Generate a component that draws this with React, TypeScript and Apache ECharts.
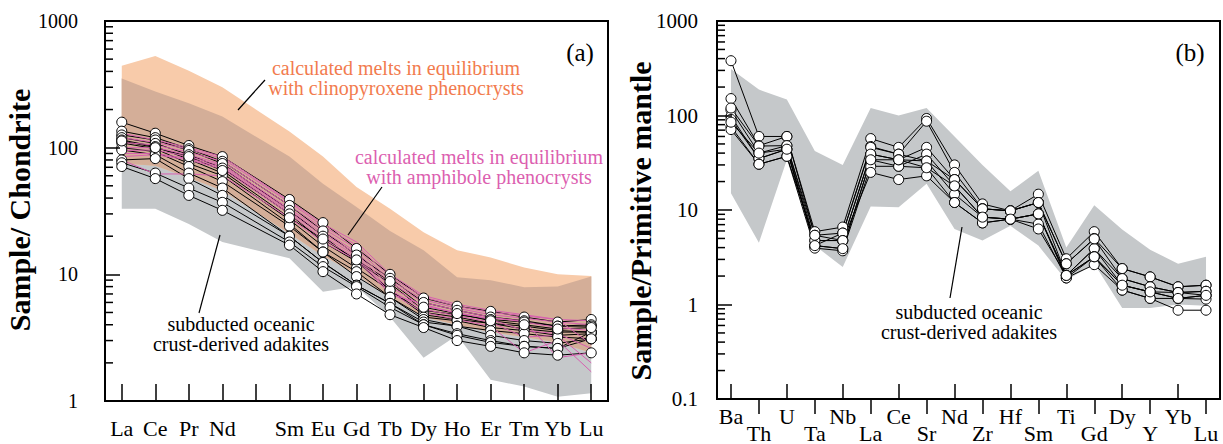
import React, { useEffect, useRef } from 'react';
import * as echarts from 'echarts';

// ---------- Panel (a): chondrite-normalized REE ----------
const REE_ELEMENTS = ['La', 'Ce', 'Pr', 'Nd', '', 'Sm', 'Eu', 'Gd', 'Tb', 'Dy', 'Ho', 'Er', 'Tm', 'Yb', 'Lu'];

const CPX_MELT_UPPER = [444, 529, 405, 300, '-', 134, 85, 49, 33, 21.5, 15.5, 13.6, 11.3, 10, 9.7];
const CPX_MELT_LOWER = [75, 72, 58, 46, '-', 21, 14, 10, 6.5, 4.6, 4.0, 3.5, 3.2, 2.9, 2.4];
const ADAKITE_A_UPPER = [352, 277, 224, 176, '-', 85, 52, 34, 22, 15.5, 9.5, 9.0, 7.9, 8.0, 9.6];
const ADAKITE_A_LOWER = [33, 33, 25, 18, '-', 13.4, 7.3, 8.0, 4.6, 2.2, 3.3, 1.47, 1.3, 1.08, 1.15];

const REE_SAMPLES = [
  [159, 130, 104, 85, '-', 39, 25.6, 16, 10, 6.5, 5.6, 5.1, 4.6, 4.2, 4.4],
  [135, 120, 98, 78, '-', 35, 22, 14.2, 9.3, 6.0, 5.2, 4.6, 4.3, 3.9, 4.0],
  [126, 115, 95, 75, '-', 32, 20, 12.6, 8.5, 5.2, 4.8, 4.4, 4.2, 3.9, 3.9],
  [120, 108, 88, 69, '-', 30, 18, 12.6, 7.5, 5.0, 4.6, 4.1, 3.9, 3.6, 3.5],
  [115, 102, 81, 63, '-', 27, 16.7, 11.2, 7.5, 4.8, 4.4, 4.1, 3.7, 3.5, 3.5],
  [109, 98, 75, 60, '-', 25, 15, 10.5, 6.6, 4.6, 4.3, 3.8, 3.6, 3.3, 3.4],
  [100, 93, 71, 54, '-', 24, 15, 9.6, 6.6, 4.4, 3.9, 3.6, 3.4, 3.2, 3.1],
  [96, 88, 63, 48, '-', 20, 12.4, 8.2, 5.9, 4.2, 3.9, 3.3, 3.0, 2.85, 3.1],
  [80, 82, 57, 42, '-', 20, 12.4, 8.2, 5.9, 4.0, 3.4, 3.0, 2.7, 2.6, 3.5],
  [76, 63, 48, 37, '-', 18, 11.5, 8.0, 5.5, 4.0, 3.3, 2.9, 2.7, 2.6, 3.1],
  [71, 57, 42, 32, '-', 17, 10.5, 7.0, 4.8, 3.8, 3.0, 2.7, 2.4, 2.3, 2.4],
  [113, 100, 85, 66, '-', 28, 19, 13, 8.8, 5.5, 4.9, 4.3, 4.0, 3.7, 3.8],
];

const AMPH_MELTS = [
  [120, 110, 97, 82, '-', 37, 24, 17, 9.5, 6.6, 5.6, 5.0, 4.7, 4.4, 4.3],
  [110, 105, 92, 78, '-', 35, 23, 16, 9.0, 6.3, 5.4, 4.8, 4.5, 4.2, 4.0],
  [100, 100, 88, 74, '-', 33, 22, 15, 8.6, 6.0, 5.2, 4.6, 4.2, 3.8, 3.6],
  [95, 96, 85, 72, '-', 32, 21, 14.5, 8.0, 5.6, 5.0, 4.4, 3.6, 3.4, 2.6],
  [90, 90, 82, 70, '-', 31, 20, 14, 7.5, 5.3, 4.7, 4.2, 3.2, 3.3, 2.0],
  [85, 88, 80, 68, '-', 30, 19, 13.5, 7.2, 5.0, 4.4, 3.9, 2.4, 3.0, 1.7],
  [80, 62, 62, 60, '-', 28, 18, 13, 7.0, 5.8, 4.9, 4.5, 4.3, 2.2, 2.4],
  [130, 115, 100, 85, '-', 38, 25, 18, 10, 6.8, 5.8, 5.2, 4.8, 4.4, 2.8],
];

const A_MINOR_TICKS = [2, 3, 4, 5, 6, 7, 8, 9, 20, 30, 40, 50, 60, 70, 80, 90, 200, 300, 400, 500, 600, 700, 800, 900];

// ---------- Panel (b): primitive-mantle-normalized spider diagram ----------
const SPIDER_ELEMENTS = ['Ba', 'Th', 'U', 'Ta', 'Nb', 'La', 'Ce', 'Sr', 'Nd', 'Zr', 'Hf', 'Sm', 'Ti', 'Gd', 'Dy', 'Y', 'Yb', 'Lu'];

const ADAKITE_B_UPPER = [310, 188, 148, 42, 30, 120, 100, 120, 60, 30, 15.8, 26, 4.0, 11.2, 6.2, 3.8, 2.7, 3.2];
const ADAKITE_B_LOWER = [15, 4.5, 34, 4.2, 2.5, 10.9, 10.7, 19, 6.3, 4.75, 6.8, 4.2, 1.8, 2.7, 0.92, 0.92, 1.0, 0.97];

const SPIDER_SAMPLES = [
  [380, 60, 60, 5.9, 6.6, 57, 46, 93, 30, 11.6, 9.8, 14.7, 3.05, 5.9, 2.4, 1.96, 1.54, 1.6],
  [151, 48, 60, 5.4, 5.7, 47, 39, 87, 25, 10.3, 9.8, 12, 2.7, 5.0, 2.4, 1.96, 1.54, 1.6],
  [114, 40, 48, 4.75, 4.75, 39, 34, 46, 21, 10.3, 9.8, 12, 2.03, 3.9, 1.88, 1.54, 1.34, 1.38],
  [98, 35, 44, 4.2, 3.9, 34, 29, 39, 18, 8.4, 8.0, 9.1, 2.03, 3.9, 1.6, 1.36, 1.34, 1.25],
  [91, 35, 44, 4.2, 5.7, 46, 39, 33, 14.7, 8.4, 8.0, 9.1, 1.91, 3.2, 1.6, 1.36, 1.16, 1.25],
  [76, 30.5, 37, 3.95, 3.7, 29, 29, 28, 12, 7.3, 8.0, 7.1, 1.91, 2.64, 1.42, 1.16, 1.16, 1.14],
  [71, 30.5, 37, 4.75, 4.75, 25, 21, 23, 12, 7.3, 8.0, 6.3, 2.03, 3.2, 1.42, 1.16, 0.87, 0.87],
  [120, 47.5, 48, 5.4, 4.75, 39, 34, 33, 21, 10.3, 9.8, 12, 2.7, 4.95, 1.88, 1.54, 1.34, 1.38],
  [85, 40, 44, 4.2, 3.9, 34, 34, 28, 18, 8.4, 8.0, 9.1, 2.03, 3.2, 1.6, 1.36, 1.16, 1.25],
];

const B_MINOR_TICKS = [0.2, 0.3, 0.4, 0.5, 0.6, 0.7, 0.8, 0.9, 2, 3, 4, 5, 6, 7, 8, 9, 20, 30, 40, 50, 60, 70, 80, 90, 200, 300, 400, 500, 600, 700, 800, 900];

const SERIF = 'Liberation Serif';
const C_ORANGE = '#f8cbaa';
const C_BROWN = '#d4ae98';
const C_GRAY = '#c5c8ca';
const C_PINK = '#d75fb0';

function bandSeries(xIdx: number, yIdx: number, upper: any[], lower: any[], color: string) {
  return {
    type: 'custom',
    xAxisIndex: xIdx,
    yAxisIndex: yIdx,
    silent: true,
    z: 1,
    data: [[0, upper[0]]],
    encode: { x: 0, y: 1 },
    renderItem: (params: any, api: any) => {
      const pts: number[][] = [];
      upper.forEach((v, i) => { if (v !== '-') pts.push(api.coord([i, v])); });
      for (let i = lower.length - 1; i >= 0; i--) {
        if (lower[i] !== '-') pts.push(api.coord([i, lower[i]]));
      }
      return { type: 'polygon', shape: { points: pts }, style: { fill: color } };
    },
  };
}

function minorTickSeries(xIdx: number, yIdx: number, values: number[], len: number) {
  return {
    type: 'custom',
    xAxisIndex: xIdx,
    yAxisIndex: yIdx,
    silent: true,
    z: 20,
    data: values.map((v) => [0, v]),
    encode: { x: 0, y: 1 },
    renderItem: (params: any, api: any) => {
      const y = api.coord([0, api.value(1)])[1];
      const x0 = params.coordSys.x;
      return { type: 'line', shape: { x1: x0, y1: y, x2: x0 + len, y2: y }, style: { stroke: '#000', lineWidth: 1.5 } };
    },
  };
}

function sampleLines(xIdx: number, yIdx: number, samples: any[][], color: string, z: number) {
  return samples.map((d) => ({
    type: 'line',
    xAxisIndex: xIdx,
    yAxisIndex: yIdx,
    data: d,
    connectNulls: true,
    showSymbol: false,
    symbol: 'none',
    silent: true,
    z,
    lineStyle: { color, width: 1 },
  }));
}

function sampleDots(xIdx: number, yIdx: number, samples: any[][]) {
  return samples.map((d) => ({
    type: 'scatter',
    xAxisIndex: xIdx,
    yAxisIndex: yIdx,
    data: d,
    symbol: 'circle',
    symbolSize: 10,
    silent: true,
    z: 5,
    itemStyle: { color: '#fff', borderColor: '#000', borderWidth: 1, opacity: 1 },
  }));
}

const axisLineStyle = { show: true, lineStyle: { color: '#000', width: 2 } };
const plainNumber = (v: number) => String(v);

function textEl(text: string, x: number, y: number, size: number, color: string, rotation = 0, bold = false) {
  const style: any = { text, fill: color, fontSize: size, fontFamily: SERIF, align: 'center', verticalAlign: 'middle' };
  if (bold) style.fontWeight = 'bold';
  return { type: 'text', x, y, z: 50, rotation, style };
}

export default function App() {
  const ref = useRef<HTMLDivElement>(null);

  useEffect(() => {
    if (!ref.current) return;
    const chart = echarts.init(ref.current, undefined, { renderer: 'svg' });

    const option: any = {
      animation: false,
      backgroundColor: '#fff',
      textStyle: { fontFamily: SERIF },
      grid: [
        { left: 105, top: 21, width: 503, height: 380, show: true, borderColor: '#000', borderWidth: 2 },
        { left: 717, top: 21, width: 503, height: 380, show: true, borderColor: '#000', borderWidth: 2 },
      ],
      xAxis: [
        {
          type: 'category', gridIndex: 0, data: REE_ELEMENTS, boundaryGap: true, z: 10,
          axisLine: axisLineStyle,
          axisTick: { show: true, inside: true, length: 17, alignWithLabel: true, interval: 0, lineStyle: { color: '#000', width: 1.5 } },
          axisLabel: { interval: 0, margin: 16, color: '#000', fontFamily: SERIF, fontSize: 22 },
          splitLine: { show: false },
        },
        {
          type: 'category', gridIndex: 1, data: SPIDER_ELEMENTS, boundaryGap: true, position: 'bottom', offset: 0, z: 10,
          axisLine: axisLineStyle,
          axisTick: { show: true, inside: true, length: 15, alignWithLabel: true, interval: (i: number) => i % 2 === 0, lineStyle: { color: '#000', width: 1.5 } },
          axisLabel: { interval: (i: number) => i % 2 === 0, margin: 6, color: '#000', fontFamily: SERIF, fontSize: 22 },
          splitLine: { show: false },
        },
        {
          type: 'category', gridIndex: 1, data: SPIDER_ELEMENTS, boundaryGap: true, position: 'bottom', offset: 0, z: 10,
          axisLine: axisLineStyle,
          axisTick: { show: true, inside: false, length: 15, alignWithLabel: true, interval: (i: number) => i % 2 === 1, lineStyle: { color: '#000', width: 1.5 } },
          axisLabel: { interval: (i: number) => i % 2 === 1, margin: 23, color: '#000', fontFamily: SERIF, fontSize: 22 },
          splitLine: { show: false },
        },
      ],
      yAxis: [
        {
          type: 'log', logBase: 10, gridIndex: 0, min: 1, max: 1000, z: 10,
          axisLine: axisLineStyle,
          axisTick: { show: true, inside: true, length: 15, lineStyle: { color: '#000', width: 1.5 } },
          axisLabel: { margin: 27, color: '#000', fontFamily: SERIF, fontSize: 20, formatter: plainNumber },
          splitLine: { show: false },
        },
        {
          type: 'log', logBase: 10, gridIndex: 1, min: 0.1, max: 1000, z: 10,
          axisLine: axisLineStyle,
          axisTick: { show: true, inside: true, length: 15, lineStyle: { color: '#000', width: 1.5 } },
          axisLabel: { margin: 19, color: '#000', fontFamily: SERIF, fontSize: 21, formatter: plainNumber },
          splitLine: { show: false },
        },
      ],
      series: [
        bandSeries(0, 0, ADAKITE_A_UPPER, ADAKITE_A_LOWER, C_GRAY),
        bandSeries(0, 0, CPX_MELT_UPPER, CPX_MELT_LOWER, C_ORANGE),
        bandSeries(0, 0, ADAKITE_A_UPPER, CPX_MELT_LOWER, C_BROWN),
        ...sampleLines(0, 0, REE_SAMPLES, '#000', 2),
        ...sampleLines(0, 0, AMPH_MELTS, C_PINK, 3),
        ...sampleDots(0, 0, REE_SAMPLES),
        minorTickSeries(0, 0, A_MINOR_TICKS, 8),

        bandSeries(1, 1, ADAKITE_B_UPPER, ADAKITE_B_LOWER, C_GRAY),
        ...sampleLines(1, 1, SPIDER_SAMPLES, '#000', 2),
        ...sampleDots(1, 1, SPIDER_SAMPLES),
        minorTickSeries(1, 1, B_MINOR_TICKS, 8),
      ],
      graphic: [
        textEl('Sample/ Chondrite', 19, 210, 30, '#000', Math.PI / 2, true),
        textEl('Sample/Primitive mantle', 640, 221, 30, '#000', Math.PI / 2, true),
        textEl('(a)', 580, 52, 25, '#000'),
        textEl('(b)', 1190, 52, 25, '#000'),
        textEl('calculated melts in equilibrium', 396, 68, 20, '#f27b4e'),
        textEl('with clinopyroxene phenocrysts', 396, 88, 20, '#f27b4e'),
        textEl('calculated melts in equilibrium', 479, 157, 20, '#dc5fb0'),
        textEl('with amphibole phenocrysts', 479, 177, 20, '#dc5fb0'),
        textEl('subducted oceanic', 241, 324, 20, '#000'),
        textEl('crust-derived adakites', 241, 344, 20, '#000'),
        textEl('subducted oceanic', 969, 312, 20, '#000'),
        textEl('crust-derived adakites', 969, 332, 20, '#000'),
        { type: 'line', z: 50, shape: { x1: 265, y1: 80, x2: 238, y2: 110 }, style: { stroke: '#000', lineWidth: 1.2 } },
        { type: 'line', z: 50, shape: { x1: 382, y1: 187, x2: 348, y2: 235 }, style: { stroke: '#000', lineWidth: 1.2 } },
        { type: 'line', z: 50, shape: { x1: 220, y1: 235, x2: 199, y2: 313 }, style: { stroke: '#000', lineWidth: 1.2 } },
        { type: 'line', z: 50, shape: { x1: 962, y1: 227, x2: 950, y2: 298 }, style: { stroke: '#000', lineWidth: 1.2 } },
      ],
    };

    chart.setOption(option);
    return () => chart.dispose();
  }, []);

  return <div ref={ref} style={{ position: 'absolute', left: 0, top: 0, width: 1223, height: 444 }} />;
}
